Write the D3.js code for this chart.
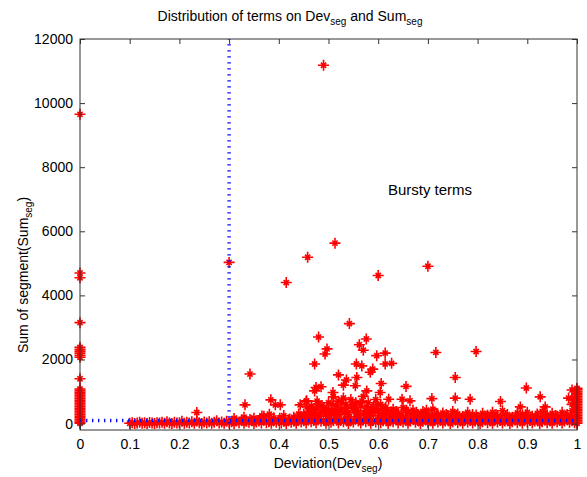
<!DOCTYPE html>
<html>
<head>
<meta charset="utf-8">
<script src="https://cdnjs.cloudflare.com/ajax/libs/d3/7.8.5/d3.min.js"></script>
<style>
  body { margin: 0; background: #fff; }
  text { font-family: "Liberation Sans", Arial, Helvetica, sans-serif; fill: #000; }
</style>
</head>
<body>
<div id="chart"></div>
<script>
const xTicks = [0, 0.1, 0.2, 0.3, 0.4, 0.5, 0.6, 0.7, 0.8, 0.9, 1]
const xTickLabels = ["0", "0.1", "0.2", "0.3", "0.4", "0.5", "0.6", "0.7", "0.8", "0.9", "1"]
const yTicks = [0, 2000, 4000, 6000, 8000, 10000, 12000]

// thresholds drawn as dotted lines
const devThreshold = 0.3
const sumThreshold = 100

// terms with Dev_seg = 0
const zeroDevSums = [9650, 4700, 4550, 3150, 2380, 2320, 2260, 2200, 2130, 2070, 1400,
  1080, 1030, 980, 930, 880, 830, 780, 730, 680, 630, 580, 530, 480, 430, 380, 330,
  280, 230, 180, 130, 80, 40, 10]

// terms with Dev_seg = 1
const fullDevSums = [1100, 1060, 1000, 950, 900, 850, 800, 750, 700, 650, 600, 550,
  500, 450, 400, 350, 300, 250, 200, 150, 100, 50, 10]

// [dev, sum] – sparse high terms
const burstyTerms = [
  [0.49, 11180], [0.30, 5030], [0.458, 5190], [0.513, 5630], [0.415, 4400], [0.60, 4620],
  [0.70, 4910], [0.542, 3120], [0.48, 2700], [0.576, 2640], [0.497, 2330], [0.493, 2170],
  [0.562, 2460], [0.57, 2290], [0.597, 2120], [0.614, 2200], [0.716, 2220], [0.797, 2250],
  [0.472, 1860], [0.556, 1860], [0.567, 1800], [0.614, 1860], [0.627, 1880], [0.589, 1700],
  [0.584, 1600], [0.52, 1520], [0.536, 1360], [0.557, 1440], [0.755, 1440], [0.606, 1250],
  [0.342, 1545], [0.475, 1125], [0.485, 1150], [0.472, 1020], [0.53, 1200], [0.554, 1180],
  [0.656, 1160], [0.898, 1110], [0.577, 1020], [0.604, 970], [0.509, 970], [0.51, 835],
  [0.648, 760], [0.664, 710], [0.708, 780], [0.621, 760], [0.456, 710], [0.466, 550],
  [0.755, 795], [0.785, 760], [0.846, 690], [0.926, 835], [0.886, 520], [0.936, 520],
  [0.983, 795], [0.332, 585], [0.384, 740], [0.393, 585], [0.403, 585], [0.443, 585],
  [0.455, 690], [0.235, 345], [0.381, 295], [0.366, 240],
  [0.99, 1050], [0.99, 780], [0.99, 600], [0.99, 400], [0.99, 200]
]

// [dev, sum] – low band between 0.1 and 0.3
const lowBand = [
  [0.100, 10], [0.105, 30], [0.110, 0], [0.115, 20], [0.120, 40], [0.125, 10], [0.130, 25], [0.135, 0],
  [0.140, 35], [0.145, 15], [0.150, 5], [0.155, 30], [0.160, 20], [0.165, 45], [0.170, 10], [0.175, 60],
  [0.180, 20], [0.185, 0], [0.190, 40], [0.195, 15], [0.200, 30], [0.205, 70], [0.210, 10], [0.215, 40],
  [0.220, 20], [0.225, 55], [0.230, 10], [0.235, 80], [0.240, 30], [0.245, 0], [0.250, 50], [0.255, 20],
  [0.260, 60], [0.265, 10], [0.270, 40], [0.275, 90], [0.280, 20], [0.285, 50], [0.290, 10], [0.295, 70]
]

// [dev, sum] – base band between 0.3 and 1
const baseBand = [
  [0.300, 20], [0.305, 60], [0.310, 0], [0.315, 90], [0.320, 30], [0.325, 110], [0.330, 10], [0.335, 70], [0.340, 40], [0.345, 100],
  [0.350, 0], [0.355, 50], [0.360, 80], [0.365, 20], [0.370, 120], [0.375, 30], [0.380, 60], [0.385, 10], [0.390, 90], [0.395, 40],
  [0.400, 100], [0.405, 20], [0.410, 70], [0.415, 0], [0.420, 110], [0.425, 40], [0.430, 80], [0.435, 10], [0.440, 130], [0.445, 50],
  [0.450, 90], [0.455, 20], [0.460, 140], [0.465, 60], [0.470, 100], [0.475, 30], [0.480, 150], [0.485, 70], [0.490, 110], [0.495, 10],
  [0.500, 130], [0.505, 40], [0.510, 90], [0.515, 150], [0.520, 20], [0.525, 110], [0.530, 60], [0.535, 140], [0.540, 0], [0.545, 100],
  [0.550, 50], [0.555, 150], [0.560, 80], [0.565, 20], [0.570, 120], [0.575, 60], [0.580, 140], [0.585, 10], [0.590, 100], [0.595, 50],
  [0.600, 130], [0.605, 30], [0.610, 90], [0.615, 150], [0.620, 0], [0.625, 110], [0.630, 60], [0.635, 140], [0.640, 20], [0.645, 100],
  [0.650, 50], [0.655, 120], [0.660, 10], [0.665, 80], [0.670, 140], [0.675, 40], [0.680, 100], [0.685, 0], [0.690, 70], [0.695, 120],
  [0.700, 30], [0.705, 90], [0.710, 10], [0.715, 130], [0.720, 50], [0.725, 100], [0.730, 20], [0.735, 80], [0.740, 120], [0.745, 0],
  [0.750, 60], [0.755, 110], [0.760, 30], [0.765, 90], [0.770, 10], [0.775, 130], [0.780, 50], [0.785, 100], [0.790, 20], [0.795, 80],
  [0.800, 120], [0.805, 0], [0.810, 60], [0.815, 110], [0.820, 30], [0.825, 90], [0.830, 10], [0.835, 130], [0.840, 50], [0.845, 100],
  [0.850, 20], [0.855, 80], [0.860, 120], [0.865, 0], [0.870, 60], [0.875, 110], [0.880, 30], [0.885, 90], [0.890, 10], [0.895, 130],
  [0.900, 50], [0.905, 100], [0.910, 20], [0.915, 80], [0.920, 120], [0.925, 0], [0.930, 60], [0.935, 110], [0.940, 30], [0.945, 90],
  [0.950, 10], [0.955, 130], [0.960, 50], [0.965, 100], [0.970, 20], [0.975, 80], [0.980, 120], [0.985, 40], [0.990, 90], [0.995, 30]
]

// [dev, sum] – the hump of mid-size terms
const midBand = [
  [0.31, 160], [0.33, 200], [0.35, 170], [0.37, 230], [0.39, 180], [0.41, 250], [0.43, 200], [0.44, 300],
  [0.45, 300], [0.455, 220], [0.46, 380], [0.465, 260], [0.47, 250], [0.475, 450], [0.48, 600], [0.485, 350],
  [0.49, 500], [0.495, 280], [0.50, 650], [0.505, 400], [0.51, 300], [0.515, 550], [0.52, 700], [0.525, 450],
  [0.53, 800], [0.535, 600], [0.54, 350], [0.545, 750], [0.55, 500], [0.555, 650], [0.56, 300], [0.565, 550],
  [0.57, 850], [0.575, 400], [0.58, 650], [0.585, 300], [0.59, 500], [0.595, 750], [0.60, 400], [0.605, 600],
  [0.61, 300], [0.615, 500], [0.62, 350], [0.625, 250], [0.63, 450], [0.64, 300], [0.65, 500], [0.66, 350],
  [0.67, 420], [0.68, 280], [0.69, 380], [0.70, 300], [0.71, 450], [0.72, 250],
  [0.452, 180], [0.462, 200], [0.472, 330], [0.482, 230], [0.492, 380], [0.502, 250], [0.512, 420], [0.522, 280],
  [0.532, 350], [0.542, 220], [0.552, 400], [0.562, 250], [0.572, 330], [0.582, 220], [0.592, 380], [0.602, 250],
  [0.612, 200], [0.622, 180], [0.635, 220], [0.655, 200], [0.675, 240], [0.695, 200],
  [0.73, 330], [0.74, 250], [0.75, 380], [0.76, 300], [0.77, 220], [0.78, 350], [0.79, 280], [0.80, 200],
  [0.81, 320], [0.82, 260], [0.83, 350], [0.84, 230], [0.85, 400], [0.86, 280], [0.87, 200], [0.88, 330],
  [0.89, 260], [0.90, 350], [0.91, 230], [0.92, 300], [0.93, 380], [0.94, 250], [0.95, 320], [0.96, 230],
  [0.97, 350], [0.98, 280]
]

// [dev, sum] – extra layer filling the hump
const denseHump = [
  [0.457, 520], [0.467, 430], [0.477, 700], [0.487, 560], [0.497, 450], [0.507, 620], [0.517, 380], [0.527, 650],
  [0.537, 480], [0.547, 580], [0.557, 420], [0.567, 700], [0.577, 520], [0.587, 450], [0.597, 600], [0.607, 480],
  [0.617, 420], [0.627, 330], [0.637, 380], [0.647, 260], [0.657, 420], [0.667, 300], [0.677, 350], [0.687, 250],
  [0.697, 420], [0.707, 230], [0.717, 320], [0.727, 180], [0.737, 280], [0.747, 200], [0.757, 260], [0.767, 170],
  [0.777, 240], [0.787, 180], [0.797, 270], [0.807, 170], [0.817, 230], [0.827, 190], [0.837, 280], [0.847, 180],
  [0.857, 250], [0.867, 170], [0.877, 240], [0.887, 190], [0.897, 270], [0.907, 180], [0.917, 230], [0.927, 170],
  [0.937, 280], [0.947, 190], [0.957, 250], [0.967, 180], [0.977, 240], [0.987, 200],
  [0.342, 130], [0.362, 150], [0.382, 120], [0.402, 170], [0.422, 140], [0.442, 200]
]

const W = 587, H = 477
const m = { left: 80, right: 10, top: 39, bottom: 47 }

const svg = d3.select("#chart").append("svg")
  .attr("width", W).attr("height", H)

const x = d3.scaleLinear().domain([0, 1]).range([m.left, W - m.right])
const y = d3.scaleLinear().domain([-200, 12000]).range([H - m.bottom, m.top])

const points = [
  ...zeroDevSums.map(s => [0, s]),
  ...fullDevSums.map(s => [1, s]),
  ...lowBand, ...baseBand, ...midBand, ...denseHump, ...burstyTerms
]

// matlab '*' marker: strong plus, short diagonals
const star = "M-5.5,0H5.5M0,-5.5V5.5M-2.6,-2.6L2.6,2.6M-2.6,2.6L2.6,-2.6"

svg.append("g").selectAll("path").data(points).join("path")
  .attr("d", star)
  .attr("transform", d => `translate(${x(d[0])},${y(d[1])})`)
  .attr("fill", "none").attr("stroke", "#ff0000").attr("stroke-width", 1.6)

// threshold lines
const dotted = { stroke: "#1010ff", width: 3.5, dash: "1.4,4.6" }
svg.append("line")
  .attr("x1", x(devThreshold)).attr("x2", x(devThreshold))
  .attr("y1", y(0)).attr("y2", y(12000))
  .attr("stroke", dotted.stroke).attr("stroke-width", dotted.width).attr("stroke-dasharray", dotted.dash)
svg.append("line")
  .attr("x1", x(0)).attr("x2", x(1))
  .attr("y1", y(sumThreshold)).attr("y2", y(sumThreshold))
  .attr("stroke", dotted.stroke).attr("stroke-width", dotted.width).attr("stroke-dasharray", dotted.dash)

// axes, ticks inside like matlab
const fmt = (d, i) => xTickLabels[i]
const axisStyle = g => {
  g.select(".domain").remove()
  g.selectAll("line").attr("stroke", "#333")
  g.selectAll("text").attr("font-size", 14).attr("fill", "#000")
    .attr("font-family", '"Liberation Sans", Arial, sans-serif')
}

svg.append("g").attr("transform", `translate(0,${H - m.bottom})`)
  .call(d3.axisBottom(x).tickValues(xTicks).tickFormat(fmt).tickSize(-5).tickPadding(9))
  .call(axisStyle)
svg.append("g").attr("transform", `translate(0,${m.top})`)
  .call(d3.axisTop(x).tickValues(xTicks).tickFormat("").tickSize(-5))
  .call(axisStyle)
svg.append("g").attr("transform", `translate(${m.left},0)`)
  .call(d3.axisLeft(y).tickValues(yTicks).tickFormat(d3.format("d")).tickSize(-5).tickPadding(7))
  .call(axisStyle)
svg.append("g").attr("transform", `translate(${W - m.right},0)`)
  .call(d3.axisRight(y).tickValues(yTicks).tickFormat("").tickSize(-5))
  .call(axisStyle)

svg.append("rect")
  .attr("x", m.left).attr("y", m.top)
  .attr("width", W - m.left - m.right).attr("height", H - m.top - m.bottom)
  .attr("fill", "none").attr("stroke", "#333").attr("stroke-width", 1)

// labels with subscripts
const title = svg.append("text").attr("x", 290).attr("y", 21).attr("text-anchor", "middle").attr("font-size", 14)
title.append("tspan").text("Distribution of terms on Dev")
title.append("tspan").text("seg").attr("font-size", 10).attr("dy", 4)
title.append("tspan").text(" and Sum").attr("dy", -4)
title.append("tspan").text("seg").attr("font-size", 10).attr("dy", 4)

const xl = svg.append("text").attr("x", 328).attr("y", 468).attr("text-anchor", "middle").attr("font-size", 14)
xl.append("tspan").text("Deviation(Dev")
xl.append("tspan").text("seg").attr("font-size", 10).attr("dy", 4)
xl.append("tspan").text(")").attr("dy", -4)

const yl = svg.append("text").attr("transform", "translate(28,275) rotate(-90)")
  .attr("text-anchor", "middle").attr("font-size", 14)
yl.append("tspan").text("Sum of segment(Sum")
yl.append("tspan").text("seg").attr("font-size", 10).attr("dy", 4)
yl.append("tspan").text(")").attr("dy", -4)

svg.append("text").attr("x", 430).attr("y", 195).attr("text-anchor", "middle")
  .attr("font-size", 15).text("Bursty terms")
</script>
</body>
</html>
